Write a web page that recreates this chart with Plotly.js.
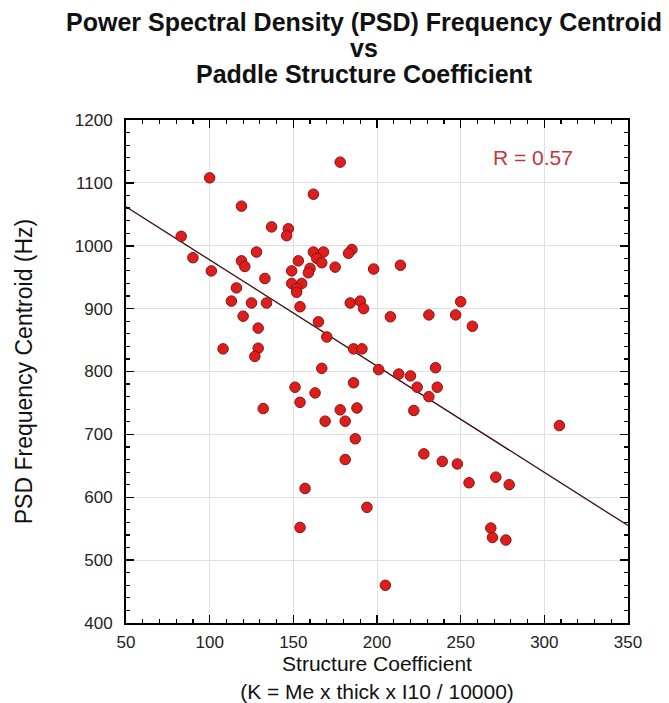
<!DOCTYPE html>
<html>
<head>
<meta charset="utf-8">
<script src="https://cdn.plot.ly/plotly-3.0.1.min.js"></script>
<style>
  html, body { margin: 0; padding: 0; background: #ffffff; }
  #chart { width: 669px; height: 703px; }
</style>
</head>
<body>
<div id="chart"></div>
<script>
// Structure coefficient K (x) and PSD frequency centroid in Hz (y)
const structureCoefficient = [
  178, 100, 162, 119, 137, 147, 146, 83, 90, 128,
  119, 121, 101, 133, 116, 113, 125, 134, 120, 129,
  108, 129, 127, 167, 162, 168, 164, 167, 153, 160,
  159, 149, 175, 185, 183, 198, 149, 155, 152, 152,
  154, 165, 170, 184, 190, 192, 186, 191, 201, 151,
  186, 163, 154, 132, 178, 188, 169, 181, 187, 181,
  157, 194, 154, 205, 214, 208, 231, 247, 250, 257,
  213, 220, 235, 224, 236, 231, 222, 309, 228, 239,
  248, 255, 271, 279, 268, 269, 277
];
const centroidHz = [
  1133, 1108, 1082, 1063, 1030, 1027, 1016, 1015, 981, 990,
  976, 967, 960, 948, 933, 912, 909, 909, 888, 869,
  836, 837, 824, 805, 990, 990, 980, 973, 976, 964,
  957, 960, 966, 994, 988, 963, 940, 940, 932, 926,
  903, 879, 855, 909, 912, 900, 836, 836, 803, 775,
  782, 766, 751, 741, 739, 742, 721, 721, 693, 660,
  614, 584, 552, 460, 969, 887, 890, 890, 911, 872,
  796, 793, 806, 775, 775, 760, 738, 714, 669, 657,
  653, 623, 632, 620, 551, 536, 532
];
// Fitted line as drawn
const fitSlope = -1.69;
const fitIntercept = 1146.5;
const xRange = [50, 350];
const yRange = [400, 1200];
const correlationLabel = "R = 0.57";
const titleLines = [
  "Power Spectral Density (PSD) Frequency Centroid",
  "vs",
  "Paddle Structure Coefficient"
];

const fitX = xRange.slice();
const fitY = fitX.map(x => fitIntercept + fitSlope * x);

const FONT = "Liberation Sans, Arial, Helvetica, sans-serif";

const traces = [
  {
    type: "scatter",
    mode: "lines",
    x: fitX,
    y: fitY,
    line: { color: "#3b0c0c", width: 1.3 },
    hoverinfo: "skip",
    showlegend: false
  },
  {
    type: "scatter",
    mode: "markers",
    x: structureCoefficient,
    y: centroidHz,
    marker: {
      size: 10.5,
      color: "#de1d1d",
      line: { color: "#8a1212", width: 1 }
    },
    showlegend: false
  }
];

const axisCommon = {
  showline: true,
  linecolor: "#000000",
  linewidth: 2,
  mirror: "allticks",
  ticks: "inside",
  ticklen: 8,
  tickwidth: 1.5,
  tickcolor: "#000000",
  showgrid: true,
  gridcolor: "#e0e0e0",
  gridwidth: 1,
  zeroline: false,
  tickfont: { family: FONT, size: 17, color: "#222222" }
};

// plot area: top 120px, height 503px; title line centres at 22, 48, 74 px
const TITLE_FONT = { family: FONT, size: 25, color: "#111111" };
function paperY(px) { return 1 + (120 - px) / 503; }

const layout = {
  width: 669,
  height: 703,
  paper_bgcolor: "#ffffff",
  plot_bgcolor: "#ffffff",
  margin: { l: 126, r: 41, t: 120, b: 80 },
  title: {
    text: "<b>" + titleLines[0] + "</b>",
    font: TITLE_FONT,
    xref: "container",
    yref: "container",
    x: 364 / 669,
    xanchor: "center",
    y: 1 - 22 / 703,
    yanchor: "middle"
  },
  xaxis: Object.assign({}, axisCommon, {
    range: xRange,
    dtick: 50,
    tick0: 50,
    ticklabelstandoff: 3,
    minor: { dtick: 10, ticks: "inside", ticklen: 4, tickwidth: 1.2, tickcolor: "#000000", showgrid: false },
    title: {
      text: "Structure Coefficient<br>(K = Me x thick x I10 / 10000)",
      font: { family: FONT, size: 21, color: "#111111" },
      standoff: 4
    }
  }),
  yaxis: Object.assign({}, axisCommon, {
    range: yRange,
    dtick: 100,
    tick0: 400,
    ticklabelstandoff: 8,
    minor: { dtick: 20, ticks: "inside", ticklen: 4, tickwidth: 1.2, tickcolor: "#000000", showgrid: false },
    title: {
      text: "PSD Frequency Centroid (Hz)",
      font: { family: FONT, size: 23, color: "#111111" },
      standoff: 36
    }
  }),
  annotations: [
    {
      text: "<b>" + titleLines[1] + "</b>",
      xref: "paper", yref: "paper",
      x: (364 - 126) / 502, y: paperY(48),
      xanchor: "center", yanchor: "middle",
      showarrow: false, font: TITLE_FONT
    },
    {
      text: "<b>" + titleLines[2] + "</b>",
      xref: "paper", yref: "paper",
      x: (364 - 126) / 502, y: paperY(74),
      xanchor: "center", yanchor: "middle",
      showarrow: false, font: TITLE_FONT
    },
    {
      text: correlationLabel,
      xref: "paper",
      yref: "paper",
      x: 0.894,
      y: 0.926,
      xanchor: "right",
      yanchor: "middle",
      showarrow: false,
      font: { family: FONT, size: 21, color: "#c8343a" }
    }
  ]
};

Plotly.newPlot("chart", traces, layout, { displayModeBar: false, staticPlot: true });
</script>
</body>
</html>
